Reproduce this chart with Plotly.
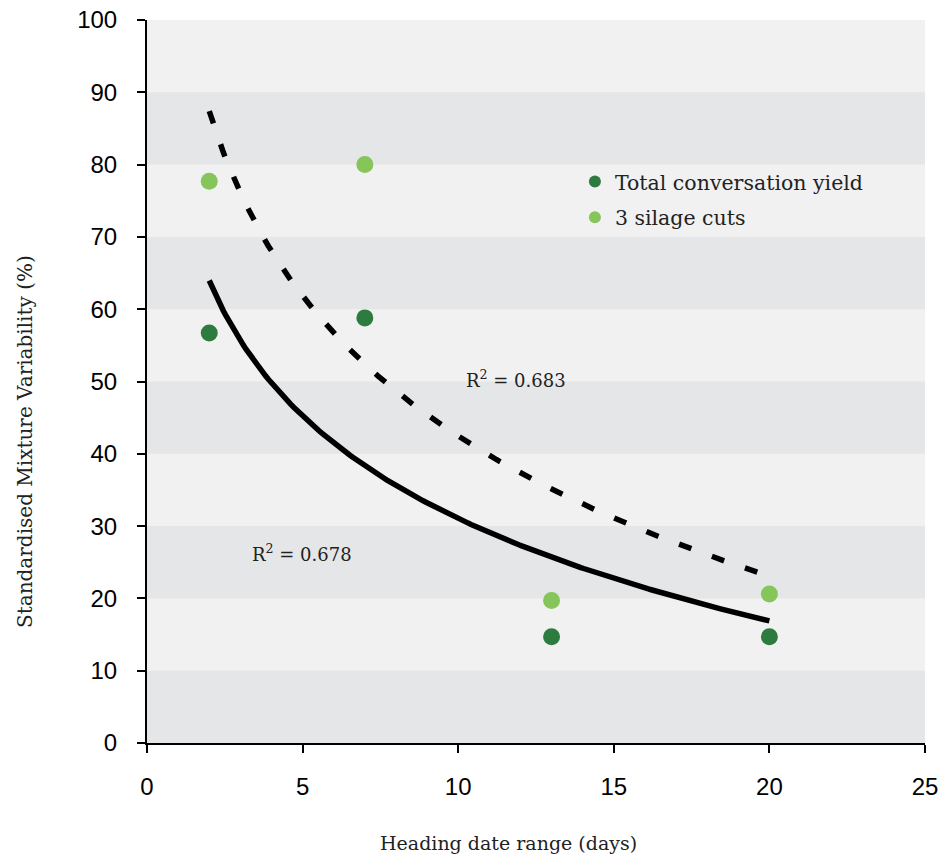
import numpy as np
import plotly.graph_objects as go

# Heading date range (days) and standardised mixture variability (%)
heading_days = [2, 7, 13, 20]
total_yield = [56.7, 58.8, 14.7, 14.7]
silage_cuts = [77.7, 80.0, 19.7, 20.6]

series_names = ["Total conversation yield", "3 silage cuts"]
r2_labels = ["R<sup>2</sup> = 0.678", "R<sup>2</sup> = 0.683"]
dark_green = "#2e7b3f"
light_green = "#86c55a"

x_ticks = [0, 5, 10, 15, 20, 25]
y_ticks = [0, 10, 20, 30, 40, 50, 60, 70, 80, 90, 100]

serif = "DejaVu Serif"
sans = "Liberation Sans, Arial, sans-serif"
text_color = "#222"


def log_fit(x, y):
    """Least-squares logarithmic trendline y = a + b*ln(x)."""
    x = np.asarray(x, float)
    y = np.asarray(y, float)
    b, a = np.polyfit(np.log(x), y, 1)
    xs = np.linspace(x.min(), x.max(), 200)
    return xs, a + b * np.log(xs)


xs1, ys1 = log_fit(heading_days, total_yield)
xs2, ys2 = log_fit(heading_days, silage_cuts)

fig = go.Figure()

# trendlines
fig.add_trace(go.Scatter(x=xs1, y=ys1, mode="lines", showlegend=False,
                         line=dict(color="black", width=5.5), hoverinfo="skip"))
fig.add_trace(go.Scatter(x=xs2, y=ys2, mode="lines", showlegend=False,
                         line=dict(color="black", width=5.5, dash="13px,22px"),
                         hoverinfo="skip"))

# data points
fig.add_trace(go.Scatter(x=heading_days, y=total_yield, mode="markers",
                         name=series_names[0], legendgroup="a",
                         marker=dict(color=dark_green, size=17, line=dict(width=0))))
fig.add_trace(go.Scatter(x=heading_days, y=silage_cuts, mode="markers",
                         name=series_names[1], legendgroup="b",
                         marker=dict(color=light_green, size=17, line=dict(width=0))))

# alternating horizontal bands
shapes = []
for lo in range(0, 100, 20):
    shapes.append(dict(type="rect", xref="paper", yref="y", x0=0, x1=1,
                       y0=lo, y1=lo + 10, fillcolor="#e5e6e8",
                       line=dict(width=0), layer="below"))

axis_common = dict(showgrid=False, zeroline=False,
                   showline=True, linecolor="black", linewidth=2,
                   ticks="outside", ticklen=8, tickwidth=2, tickcolor="black",
                   tickfont=dict(family=sans, size=24, color="black"))

fig.update_layout(
    width=944, height=857,
    margin=dict(l=147, r=19, t=20, b=114, autoexpand=False),
    paper_bgcolor="white",
    plot_bgcolor="#f1f1f1",
    shapes=shapes,
    showlegend=True,
    legend=dict(x=0.55, y=0.804, xanchor="left", yanchor="top",
                bgcolor="rgba(0,0,0,0)",
                font=dict(family=serif, size=20.5, color=text_color),
                itemsizing="constant", tracegroupgap=6, itemwidth=30),
    xaxis=dict(range=[0, 25], tickvals=x_ticks, ticklabelstandoff=13, **axis_common),
    yaxis=dict(range=[0, 100], tickvals=y_ticks, ticklabelstandoff=15, **axis_common),
    annotations=[
        dict(x=3.3, y=26.3, xref="x", yref="y", xanchor="left", showarrow=False,
             text=r2_labels[0], font=dict(family=serif, size=18, color=text_color)),
        dict(x=10.2, y=50.3, xref="x", yref="y", xanchor="left", showarrow=False,
             text=r2_labels[1], font=dict(family=serif, size=18, color=text_color)),
        dict(x=508 / 944, y=1 - 843 / 857, xref="paper", yref="paper",
             xanchor="center", yanchor="middle", showarrow=False,
             text="Heading date range (days)",
             font=dict(family=serif, size=19, color=text_color)),
        dict(x=25 / 944, y=1 - 442 / 857, xref="paper", yref="paper",
             xanchor="center", yanchor="middle", showarrow=False, textangle=-90,
             text="Standardised Mixture Variability (%)",
             font=dict(family=serif, size=20, color=text_color)),
    ],
)
# paper coordinates above are measured on the full page, so map them into the plot area
for ann in fig.layout.annotations[2:]:
    px = ann.x * 944
    py = (1 - ann.y) * 857
    ann.x = (px - 147) / (944 - 147 - 19)
    ann.y = (857 - 114 - py) / (857 - 20 - 114)

fig.write_html("out.html")
